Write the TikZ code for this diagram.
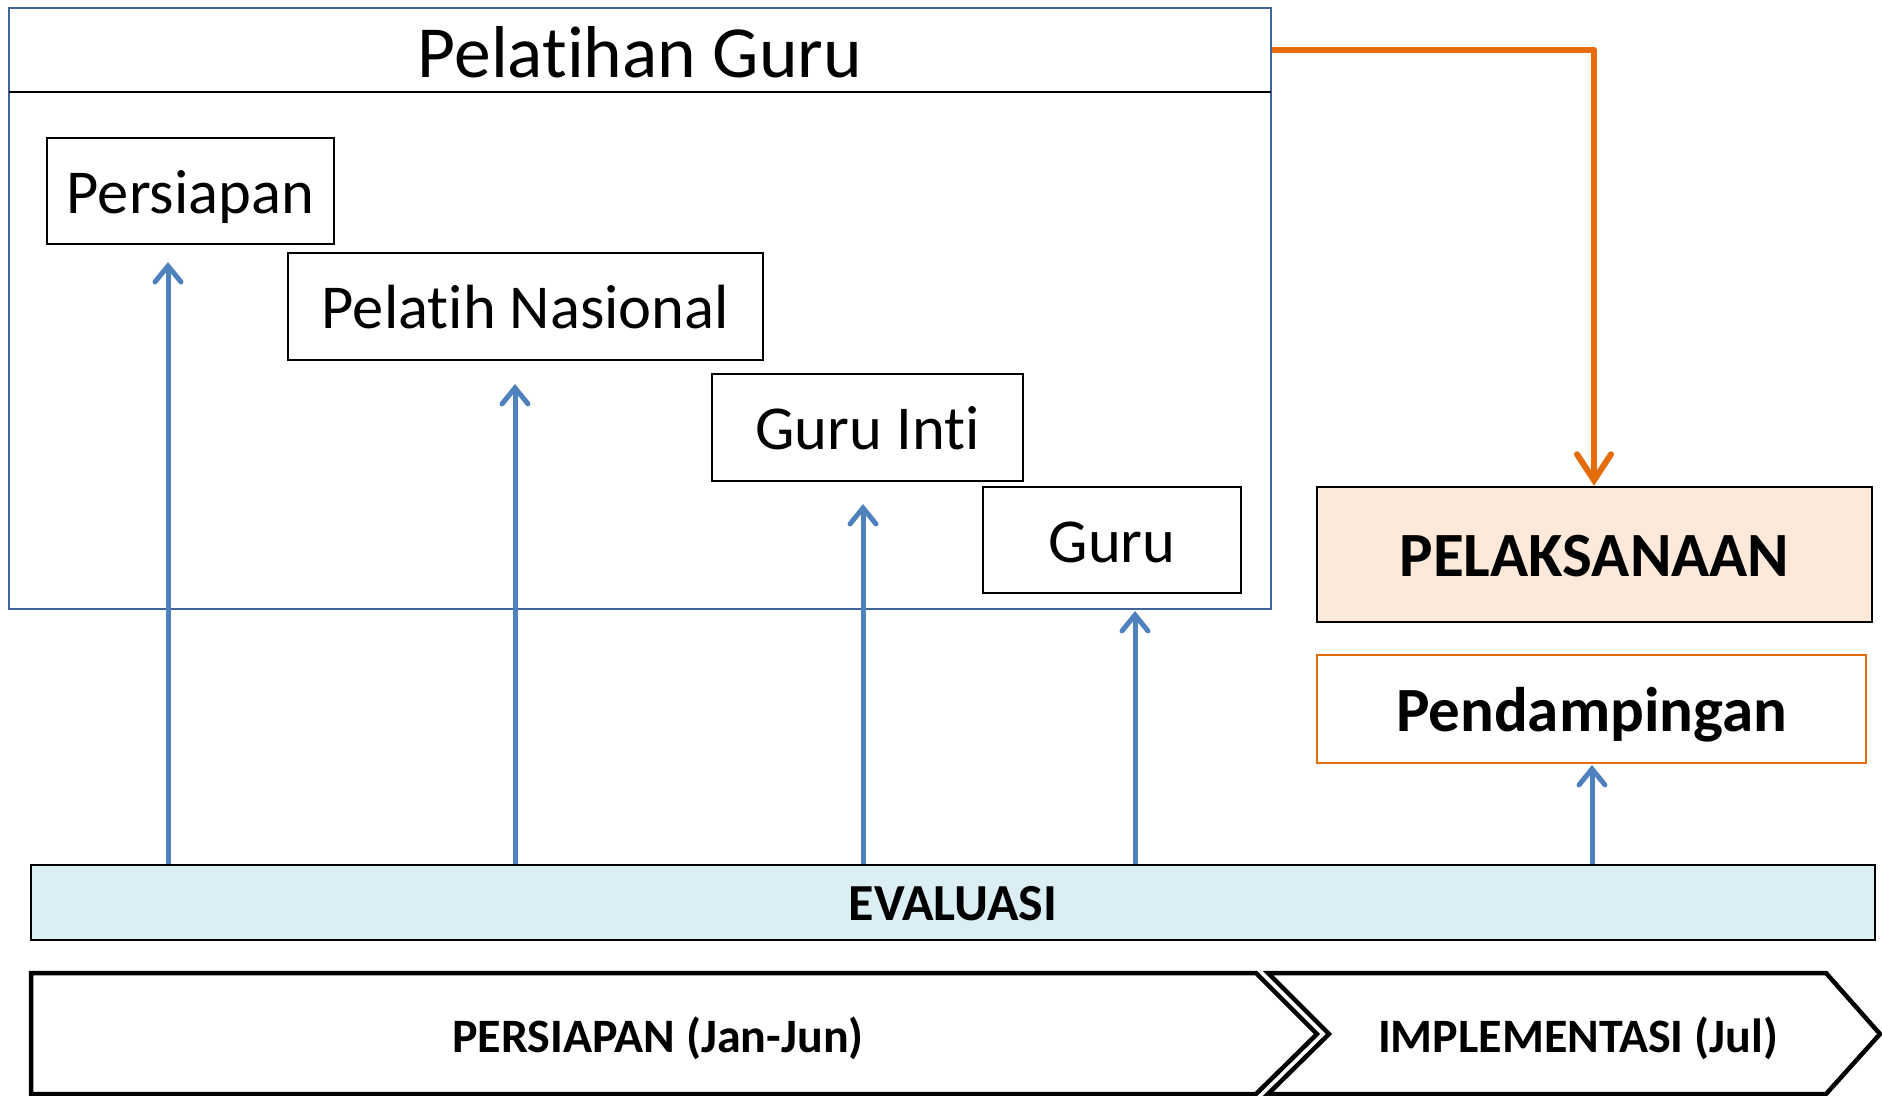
\documentclass[tikz,border=0pt]{standalone}
\usepackage{fontspec}
\setmainfont{Carlito}[Ligatures=NoCommon]
\usetikzlibrary{arrows.meta}
\definecolor{frameblue}{HTML}{41679A}
\definecolor{arrowblue}{HTML}{4F81BD}
\definecolor{orangeline}{HTML}{E46C0A}
\definecolor{lightorange}{HTML}{FDE9D9}
\definecolor{lightblue}{HTML}{DAEEF3}
\tikzset{
  ppt/.style={text height=#1, text depth=1pt},
  stagebox/.style={draw=black, line width=2pt, inner sep=0pt, ppt=45pt, font=\fontsize{62.5}{70}\selectfont},
  upbar/.style={draw=arrowblue, line width=5pt, -{Straight Barb[length=16pt,width=26pt,line cap=round]}},
  chev/.style={draw=black, line width=4.5pt, line join=miter},
}
\begin{document}
\begin{tikzpicture}[x=1pt,y=-1pt]
\useasboundingbox (0,0) rectangle (1882,1095);
% outer frame
\node[draw=frameblue, line width=2pt, minimum width=1262pt, minimum height=601pt, inner sep=0pt] (frame) at (640,308.5) {};
\coordinate (hl) at (9,92);
\coordinate (hr) at (1271,92);
\draw[black, line width=2pt] (hl) -- (hr);
\node[font=\fontsize{73.5}{80}\selectfont, inner sep=0pt] (title) at (640,52) {Pelatihan Guru};
% stage boxes
\node[stagebox, minimum width=287pt, minimum height=106pt] (persiapan) at (190.5,191) {Persiapan};
\node[stagebox, minimum width=475pt, minimum height=107pt] (pelatih) at (525.5,306.5) {Pelatih Nasional};
\node[stagebox, minimum width=311pt, minimum height=107pt] (inti) at (867.5,427.5) {Guru Inti};
\node[stagebox, minimum width=258pt, minimum height=106pt] (guru) at (1112,540) {Guru};
% right boxes
\node[draw=black, fill=lightorange, line width=2.5pt, inner sep=0pt, ppt=45pt, minimum width=555pt, minimum height=135pt, font=\bfseries\fontsize{63}{70}\selectfont] (pelak) at (1594.5,554.5) {PELAKSANAAN};
\node[draw=orangeline, line width=2pt, inner sep=0pt, ppt=45pt, minimum width=549pt, minimum height=108pt, font=\bfseries\fontsize{63}{70}\selectfont] (pend) at (1591.5,709) {Pendampingan};
% evaluasi bar
\node[draw=black, fill=lightblue, line width=2pt, inner sep=0pt, ppt=37pt, minimum width=1844pt, minimum height=75pt, font=\bfseries\fontsize{52}{58}\selectfont] (eval) at (953,902.5) {EVALUASI};
% arrow tips
\coordinate (t1) at (168,262);
\coordinate (t2) at (515,384);
\coordinate (t3) at (863,504);
\coordinate (t4) at (1135,611);
\coordinate (t5) at (1592,765);
\draw[upbar] (eval.north -| t1) -- (t1);
\draw[upbar] (eval.north -| t2) -- (t2);
\draw[upbar] (eval.north -| t3) -- (t3);
\draw[upbar] (eval.north -| t4) -- (t4);
\draw[upbar] (eval.north -| t5) -- (t5);
% orange connector
\coordinate (oc) at (1594,50);
\draw[orangeline, line width=6pt, line join=round, -{Straight Barb[length=26pt,width=34pt,line cap=round]}] (frame.east |- oc) -- (oc) -- (pelak.north -| oc);
% chevrons
\coordinate (c1a) at (31,973);
\coordinate (c1b) at (1256,973);
\coordinate (c1c) at (1317,1034);
\coordinate (c1d) at (1256,1094);
\coordinate (c1e) at (31,1094);
\draw[chev] (c1a) -- (c1b) -- (c1c) -- (c1d) -- (c1e) -- cycle;
\coordinate (c2a) at (1268,973);
\coordinate (c2b) at (1826,973);
\coordinate (c2c) at (1880,1034);
\coordinate (c2d) at (1826,1094);
\coordinate (c2e) at (1268,1094);
\coordinate (c2f) at (1329,1034);
\draw[chev] (c2a) -- (c2b) -- (c2c) -- (c2d) -- (c2e) -- (c2f) -- cycle;
\node[font=\bfseries\fontsize{48}{54}\selectfont, inner sep=0pt, ppt=34pt] (persl) at (658,1036) {PERSIAPAN (Jan-Jun)};
\node[font=\bfseries\fontsize{48}{54}\selectfont, inner sep=0pt, ppt=34pt] (impl) at (1578,1036) {IMPLEMENTASI (Jul)};
\end{tikzpicture}
\end{document}
